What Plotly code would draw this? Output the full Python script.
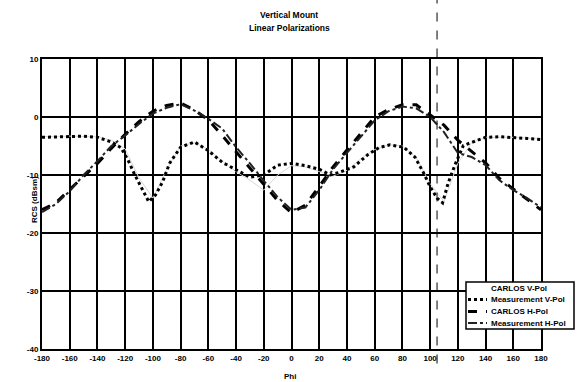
import plotly.graph_objects as go

# ---- data ----
phi_ticks = list(range(-180, 181, 20))
rcs_ticks = [-40, -30, -20, -10, 0, 10]

carlos_h_phi = [-180, -170, -160, -150, -140, -130, -120, -110, -100, -90, -80, -70, -60, -50, -40,
                -30, -20, -10, 0, 10, 20, 30, 40, 50, 60, 70, 80, 90, 100, 110, 120, 130, 140,
                150, 160, 170, 180]
carlos_h_rcs = [-16.0, -14.8, -12.5, -10.2, -8.0, -5.4, -3.0, -0.8, 1.0, 2.0, 2.4, 1.2, -0.5, -3.2,
                -6.0, -8.8, -11.6, -14.4, -16.5, -15.2, -12.0, -8.6, -5.7, -2.9, 0.0, 1.3, 2.1,
                2.1, 0.3, -1.4, -4.0, -6.0, -7.9, -10.6, -12.4, -14.3, -16.0]

meas_h_phi = [-180, -170, -160, -150, -140, -130, -120, -110, -100, -90, -80, -70, -60, -50, -40,
              -30, -20, -10, 0, 10, 20, 30, 40, 50, 60, 70, 80, 90, 100, 110, 120, 130, 140,
              150, 160, 170, 180]
meas_h_rcs = [-16.4, -15.0, -12.8, -10.0, -7.6, -5.0, -3.2, -1.2, 0.6, 1.6, 2.2, 1.1, -0.3, -2.0,
              -5.2, -8.0, -11.0, -13.8, -16.0, -15.6, -12.6, -9.0, -6.2, -3.3, -0.6, 1.0, 1.8,
              1.5, 0.0, -2.6, -6.2, -6.9, -8.3, -10.9, -12.6, -14.0, -15.6]

meas_v_phi = [-180, -170, -160, -150, -140, -130, -123, -118, -113, -108, -103, -98, -93, -88,
              -80, -70, -60, -50, -40, -30, -20, -10, 0, 10, 20, 28, 35, 45, 55, 63, 71, 81, 89,
              95, 100, 105, 109, 113, 118, 124, 131, 140, 150, 160, 170, 180]
meas_v_rcs = [-3.5, -3.4, -3.3, -3.3, -3.5, -4.3, -5.3, -7.4, -10.0, -12.3, -14.6, -13.4, -11.2,
              -8.0, -5.2, -4.3, -5.8, -7.8, -9.1, -10.4, -10.0, -8.3, -8.0, -8.4, -9.0, -10.0,
              -9.5, -8.6, -6.5, -5.3, -4.8, -5.2, -6.9, -9.5, -12.0, -14.0, -14.8, -11.4, -8.2,
              -4.9, -4.3, -3.5, -3.4, -3.5, -3.7, -3.9]

carlos_v_phi = [-180, -160, -140, -130, -120, -110, -100, -90, -80, -70, -60, -50, -40, -30, -20,
                -10, 0, 10, 20, 30, 40, 50, 60, 70, 80, 90, 100, 110, 120, 130, 140, 160, 180]
carlos_v_rcs = [-3.4, -3.3, -3.4, -4.0, -5.5, -10.5, -14.0, -9.0, -5.0, -4.4, -5.6, -7.6, -9.4,
                -10.9, -12.6, -10.0, -8.4, -8.6, -9.4, -10.2, -9.2, -7.2, -5.6, -4.8, -5.0,
                -7.0, -11.5, -14.6, -8.0, -4.4, -3.5, -3.5, -3.8]

series_names = ["CARLOS V-Pol", "Measurement V-Pol", "CARLOS H-Pol", "Measurement H-Pol"]
title_lines = ["Vertical Mount", "Linear Polarizations"]
x_title = "Phi"
y_title = "RCS (dBsm)"

vmark_phi = 105

BLACK = "#000000"
FONT = "Liberation Sans"
W, H = 577, 382
ML, MR, MT, MB = 42, 36, 59, 33

styles = [
    dict(color="#d8d8d8", width=1, dash="solid"),
    dict(color=BLACK, width=3, dash="dot"),
    dict(color=BLACK, width=3, dash="dash"),
    dict(color="#222222", width=2, dash="dashdot"),
]

fig = go.Figure()
for name, xs, ys, st in zip(series_names,
                            [carlos_v_phi, meas_v_phi, carlos_h_phi, meas_h_phi],
                            [carlos_v_rcs, meas_v_rcs, carlos_h_rcs, meas_h_rcs],
                            styles):
    fig.add_trace(go.Scatter(x=xs, y=ys, mode="lines", name=name, line=st, hoverinfo="skip"))

fig.add_shape(type="line", xref="x", yref="paper", x0=vmark_phi, x1=vmark_phi, y0=-0.05, y1=1.21,
              line=dict(color=BLACK, width=1, dash="dash"), layer="above")

# ---- helpers: pixel -> paper coordinates ----
pw, ph = W - ML - MR, H - MT - MB


def px_x(p):
    return (p - ML) / pw


def px_y(p):
    return (H - MB - p) / ph


# ---- compact legend box ----
box_l, box_r, box_t, box_b = 466, 574, 282, 329
fig.add_shape(type="rect", xref="paper", yref="paper",
              x0=px_x(box_l), x1=px_x(box_r), y0=px_y(box_b), y1=px_y(box_t),
              fillcolor="white", line=dict(color=BLACK, width=1.5), layer="above")
row_y = [288, 299.5, 311.5, 323]
for name, st, ry in zip(series_names, styles, row_y):
    if st["color"] != "#d8d8d8":
        fig.add_shape(type="line", xref="paper", yref="paper",
                      x0=px_x(468), x1=px_x(487), y0=px_y(ry), y1=px_y(ry),
                      line=dict(color=st["color"], width=st["width"], dash=st["dash"]),
                      layer="above")
    fig.add_annotation(text=name, xref="paper", yref="paper", x=px_x(489), y=px_y(ry),
                       xanchor="left", yanchor="middle", showarrow=False,
                       font=dict(family=FONT, size=8, color=BLACK, weight="bold"))

# ---- titles ----
for txt, ty in zip(title_lines, [15, 28]):
    fig.add_annotation(text=txt, xref="paper", yref="paper", x=px_x(289), y=px_y(ty),
                       xanchor="center", yanchor="middle", showarrow=False,
                       font=dict(family=FONT, size=8.5, color=BLACK, weight="bold"))
fig.add_annotation(text=x_title, xref="paper", yref="paper", x=px_x(290), y=px_y(376),
                   xanchor="center", yanchor="middle", showarrow=False,
                   font=dict(family=FONT, size=8, color=BLACK, weight="bold"))
fig.add_annotation(text=y_title, xref="paper", yref="paper", x=px_x(34), y=px_y(200),
                   xanchor="center", yanchor="middle", showarrow=False, textangle=-90,
                   font=dict(family=FONT, size=8, color=BLACK, weight="bold"))

fig.update_layout(
    width=W, height=H,
    margin=dict(l=ML, r=MR, t=MT, b=MB, autoexpand=False),
    paper_bgcolor="white", plot_bgcolor="white",
    font=dict(family=FONT, size=8, color=BLACK, weight="bold"),
    showlegend=False,
    hovermode=False,
    xaxis=dict(range=[-180, 180], tickmode="array", tickvals=phi_ticks,
               ticktext=[str(v) for v in phi_ticks], automargin=False,
               showgrid=True, gridcolor=BLACK, gridwidth=2,
               showline=True, linecolor=BLACK, linewidth=2, mirror=True,
               zeroline=False, ticks="", ticklen=0,
               tickfont=dict(family=FONT, size=8, weight="bold")),
    yaxis=dict(range=[-40, 10], tickmode="array", tickvals=rcs_ticks,
               ticktext=[str(v) for v in rcs_ticks], automargin=False,
               showgrid=True, gridcolor=BLACK, gridwidth=2,
               showline=True, linecolor=BLACK, linewidth=2, mirror=True,
               zeroline=False, ticks="", ticklen=0,
               tickfont=dict(family=FONT, size=8, weight="bold")),
)

fig.write_html("out.html", config={"displayModeBar": False},
               post_script="document.body.style.margin='0';")
